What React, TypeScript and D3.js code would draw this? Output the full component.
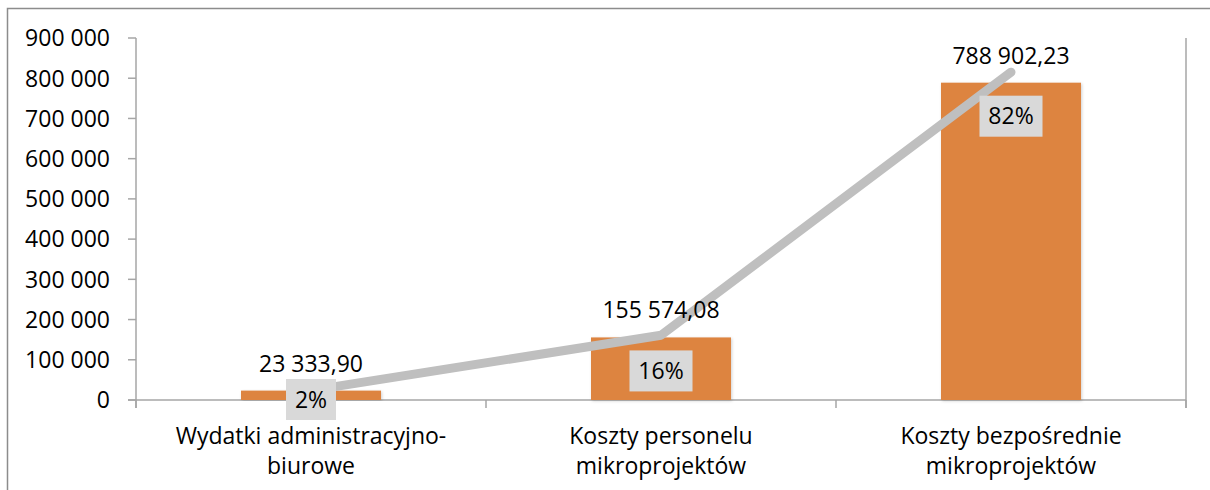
import * as d3 from 'd3';

const categories = [
  ['Wydatki administracyjno-', 'biurowe'],
  ['Koszty personelu', 'mikroprojektów'],
  ['Koszty bezpośrednie', 'mikroprojektów'],
];
const amounts = [23333.9, 155574.08, 788902.23];
const shares = [0.024, 0.161, 0.8151];
const yTicks = [0, 100000, 200000, 300000, 400000, 500000, 600000, 700000, 800000, 900000];

const W = 1210;
const H = 490;
const FONT = '"Open Sans", "Noto Sans", sans-serif';
const FS = 23;
const AXIS = '#a6a6a6';

const plLocale = d3.formatLocale({ decimal: ',', thousands: ' ', grouping: [3], currency: ['', ''] });
const fmtTick = plLocale.format(',.0f');
const fmtValue = plLocale.format(',.2f');
const fmtPct = d3.format('.0%');

export default function App() {
  const keys = categories.map((c) => c.join(' '));
  const x = d3.scaleBand().domain(keys).range([136, 1186]).paddingInner(0.6).paddingOuter(0.3);
  const y = d3.scaleLinear().domain([0, 900000]).range([400, 38]);
  const y2 = d3.scaleLinear().domain([0, 0.9]).range([400, 38]);
  const y0 = y(0);
  const cx = (i: number) => (x(keys[i]) as number) + x.bandwidth() / 2;

  const line = d3
    .line<number>()
    .x((_, i) => cx(i))
    .y((d) => y2(d));

  const tickXs = [0, 1, 2, 3].map((i) => 136 + i * x.step());

  return (
    <svg
      width={W}
      height={H}
      style={{ position: 'absolute', left: 0, top: 0, background: '#fff' }}
      fontFamily={FONT}
    >
      <defs>
        <filter id="barShadow" x="-10%" y="-10%" width="120%" height="120%">
          <feDropShadow dx="1" dy="1" stdDeviation="1.5" floodColor="#000" floodOpacity="0.18" />
        </filter>
      </defs>

      {/* chart frame, cut by the picture on the right and bottom */}
      <rect x={7.5} y={8.5} width={W + 40} height={H + 40} fill="none" stroke="#8c8c8c" strokeWidth={1.5} />

      {/* y axis */}
      <line x1={136} x2={136} y1={38} y2={408} stroke={AXIS} strokeWidth={1.5} />
      <line x1={1186} x2={1186} y1={38} y2={408} stroke={AXIS} strokeWidth={1.5} />
      {yTicks.map((t) => (
        <g key={t}>
          <line x1={128} x2={136} y1={y(t)} y2={y(t)} stroke={AXIS} strokeWidth={1.5} />
          <text x={110} y={y(t)} dy="0.36em" textAnchor="end" fontSize={FS} fill="#000">
            {fmtTick(t)}
          </text>
        </g>
      ))}

      {/* x axis */}
      <line x1={128} x2={1186} y1={y0} y2={y0} stroke={AXIS} strokeWidth={1.5} />
      {tickXs.map((tx) => (
        <line key={tx} x1={tx} x2={tx} y1={y0} y2={408} stroke={AXIS} strokeWidth={1.5} />
      ))}
      {categories.map((c, i) => (
        <text key={i} x={cx(i)} textAnchor="middle" fontSize={FS} fill="#000">
          <tspan x={cx(i)} y={444}>{c[0]}</tspan>
          <tspan x={cx(i)} y={474}>{c[1]}</tspan>
        </text>
      ))}

      {/* bars */}
      {amounts.map((v, i) => (
        <rect
          key={i}
          x={x(keys[i])}
          y={y(v)}
          width={x.bandwidth()}
          height={y0 - y(v)}
          fill="#dd8440"
          filter="url(#barShadow)"
        />
      ))}

      {/* share line */}
      <path
        d={line(shares) || ''}
        fill="none"
        stroke="#bfbfbf"
        strokeWidth={9}
        strokeLinecap="round"
        strokeLinejoin="round"
      />

      {/* value labels */}
      {amounts.map((v, i) => (
        <text key={i} x={cx(i)} y={y(v) - 19} textAnchor="middle" fontSize={FS} fill="#000">
          {fmtValue(v)}
        </text>
      ))}

      {/* share labels */}
      {shares.map((s, i) => {
        const label = fmtPct(s);
        const bw = 13 * label.length + 24;
        const bh = 41;
        const top = Math.min(y(amounts[i]) + 13, y0 - 21);
        return (
          <g key={i}>
            <rect x={cx(i) - bw / 2} y={top} width={bw} height={bh} fill="#d9d9d9" />
            <text x={cx(i)} y={top + bh / 2} dy="0.36em" textAnchor="middle" fontSize={FS} fill="#000">
              {label}
            </text>
          </g>
        );
      })}
    </svg>
  );
}
